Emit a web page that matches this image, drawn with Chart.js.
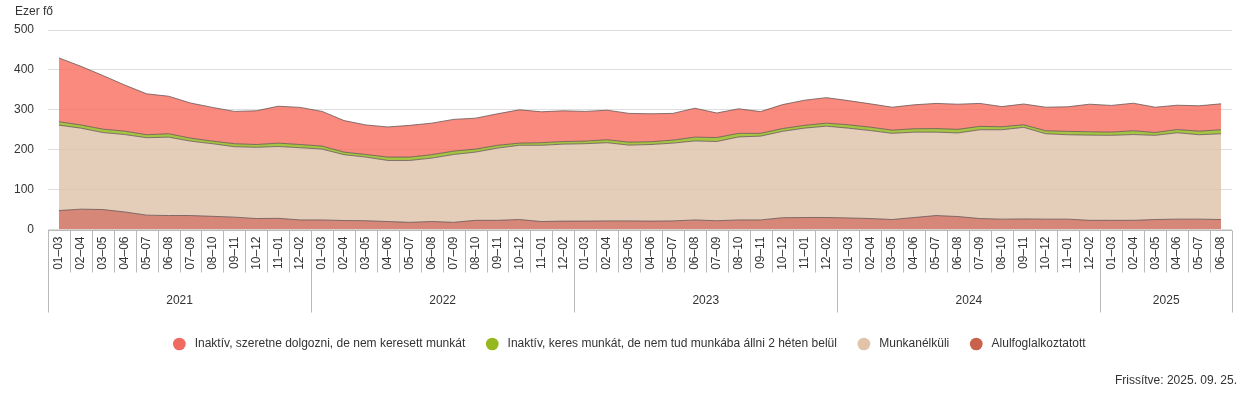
<!DOCTYPE html>
<html>
<head>
<meta charset="utf-8">
<script src="https://cdn.jsdelivr.net/npm/chart.js@4.4.1/dist/chart.umd.min.js"></script>
<style>
html,body{margin:0;padding:0;background:#fff;}
#wrap{position:relative;width:1259px;height:394px;overflow:hidden;}
#c{position:absolute;left:0;top:0;width:1259px;height:394px;}
.t{position:absolute;font-family:"Liberation Sans",Arial,sans-serif;font-size:12px;color:#333;white-space:nowrap;line-height:14px;}
</style>
</head>
<body>
<div id="wrap">
<canvas id="c" width="1259" height="394"></canvas>
<div class="t" style="left:15px;top:4px;">Ezer fő</div>
<div class="t" style="right:22px;top:373px;">Frissítve: 2025. 09. 25.</div>
</div>
<script>
// ---- categories / tick labels ----
const monthLabels = [
 '01–03','02–04','03–05','04–06','05–07','06–08','07–09','08–10','09–11','10–12','11–01','12–02',
 '01–03','02–04','03–05','04–06','05–07','06–08','07–09','08–10','09–11','10–12','11–01','12–02',
 '01–03','02–04','03–05','04–06','05–07','06–08','07–09','08–10','09–11','10–12','11–01','12–02',
 '01–03','02–04','03–05','04–06','05–07','06–08','07–09','08–10','09–11','10–12','11–01','12–02',
 '01–03','02–04','03–05','04–06','05–07','06–08'
];
const yearLabels = ['2021','2022','2023','2024','2025'];
const yearSpans = [12,12,12,12,6];
const yTicks = [0,100,200,300,400,500];

// ---- series values (ezer fő) ----
const alulfoglalkoztatott = [
 47.5,51,50,44,36,35,35,33,31,27.5,28,24,
 24,22.5,22,20,18,20,18,23,23,25,20,21,
 21,21.5,21.5,21,21.5,24,22,24,24,29.5,30,30,
 29,27.5,25,30,35,32.5,27.5,26,26.5,26,26,23,
 23,23,25,26,26,25
];
const munkanelkuli = [
 214,203,193,194,194,196.5,186.5,182,176.5,178.5,180,181,
 177.5,165,159.5,153,155,159,170,171,181,186,191,193,
 194,196,190,192,195,198,198.5,208,210,216.5,224,229,
 225,220.5,216,214,209,209.5,222.5,224,229.5,214,211.5,213.5,
 213,215,211,216.5,211.5,215
];
const inaktivKeres = [
 8.5,8,8.5,8.5,7.5,8.5,7.5,6.5,7.5,7,8.5,8,
 7.5,6.5,6.5,8.5,8.5,8.5,8.5,7.5,7,5.5,6.5,6.5,
 6.5,7.5,7.5,7,7.5,9.5,10,9,7,7,7,7.5,
 8.5,8.5,8,8.5,9,9,8.5,7.5,6.5,7.5,8.5,8.5,
 8,9.5,7,8,9,10
];
const inaktivSzeretne = [
 160,147,134.5,115.5,102.5,94,88,84.5,81,84.5,92.5,93,
 87,79,74,75.5,79.5,79,79.5,77.5,79,83.5,77.5,77,
 74.5,74,72,70,67,72.5,61.5,61.5,54.5,60,63,64,
 60.5,58.5,57.5,60,63,63,57.5,50.5,52,59,61.5,69,
 67,69,63.5,61,63.5,65
];

const seriesNames = ['Alulfoglalkoztatott','Munkanélküli','Inaktív, keres munkát, de nem tud munkába állni 2 héten belül','Inaktív, szeretne dolgozni, de nem keresett munkát'];
const fillColors = ['rgba(204,105,86,0.8)','rgba(221,194,169,0.8)','rgba(144,181,20,0.8)','rgba(249,109,92,0.8)'];
const legendColors = ['#c8624a','#e0c3a9','#94b81e','#f06a60'];
const FONT = '"Liberation Sans", Arial, sans-serif';

const centerLegend = {
  id: 'centerLegend',
  beforeDraw(chart) {
    const L = chart.legend;
    if (!L) return;
    const shift = (chart.width - (L.left + L.right)) / 2;
    L.left += shift;
    L.right += shift;
  }
};

const axisDecor = {
  id: 'axisDecor',
  afterDraw(chart) {
    const {ctx, chartArea} = chart;
    const {left, right, bottom} = chartArea;
    const xs = chart.scales.x;
    const n = monthLabels.length;
    const edge = (i) => {
      if (i === 0) return left;
      if (i === n) return right;
      return (xs.getPixelForValue(i - 1) + xs.getPixelForValue(i)) / 2;
    };
    const yearStarts = new Set();
    let acc = 0;
    yearStarts.add(0);
    yearSpans.forEach(s => { acc += s; yearStarts.add(acc); });
    ctx.save();
    ctx.strokeStyle = '#b9b9b9';
    ctx.lineWidth = 1;
    const yb = Math.round(bottom) + 0.5;
    ctx.beginPath();
    ctx.moveTo(left, yb); ctx.lineTo(right, yb);
    ctx.stroke();
    for (let i = 0; i <= n; i++) {
      const x = Math.round(edge(i)) + 0.5;
      const len = yearStarts.has(i) ? 82 : 42;
      ctx.beginPath();
      ctx.moveTo(x, yb); ctx.lineTo(x, yb + len);
      ctx.stroke();
    }
    ctx.fillStyle = '#333';
    ctx.font = '12px ' + FONT;
    ctx.textAlign = 'center';
    ctx.textBaseline = 'middle';
    let start = 0;
    yearLabels.forEach((yl, k) => {
      const end = start + yearSpans[k];
      ctx.fillText(yl, (edge(start) + edge(end)) / 2, bottom + 71);
      start = end;
    });
    ctx.restore();
  }
};

const dataArrays = [alulfoglalkoztatott, munkanelkuli, inaktivKeres, inaktivSzeretne];

new Chart(document.getElementById('c'), {
  type: 'line',
  data: {
    labels: monthLabels,
    datasets: dataArrays.map((d, k) => ({
      label: seriesNames[k],
      data: d,
      backgroundColor: fillColors[k],
      borderColor: 'rgba(95,80,80,0.75)',
      borderWidth: 1,
      fill: k === 0 ? 'origin' : '-1',
      pointRadius: 0,
      tension: 0
    }))
  },
  options: {
    responsive: false,
    animation: false,
    devicePixelRatio: 1,
    layout: {padding: {left: 0, right: 27, top: 30, bottom: 34}},
    plugins: {
      legend: {
        position: 'bottom',
        reverse: true,
        labels: {
          usePointStyle: true,
          pointStyle: 'circle',
          boxWidth: 12,
          boxHeight: 9,
          padding: 21,
          color: '#333',
          font: {size: 12, family: FONT},
          generateLabels(chart) {
            return chart.data.datasets.map((ds, i) => ({
              text: ' ' + ds.label,
              fillStyle: legendColors[i],
              strokeStyle: legendColors[i],
              lineWidth: 0,
              pointStyle: 'circle',
              hidden: false,
              datasetIndex: i,
              fontColor: '#333'
            }));
          }
        }
      },
      tooltip: {enabled: false}
    },
    scales: {
      x: {
        offset: true,
        grid: {display: false, drawTicks: false, offset: true},
        border: {display: false},
        ticks: {autoSkip: false, minRotation: 90, maxRotation: 90, padding: 7, color: '#333', font: {size: 12, family: FONT}},
        afterFit(s) { s.height = 87.5; }
      },
      y: {
        stacked: true,
        min: 0,
        max: 500,
        afterBuildTicks(s) { s.ticks = yTicks.map(v => ({value: v})); },
        ticks: {padding: 14, color: '#333', font: {size: 12, family: FONT}},
        grid: {color: '#dedede', drawTicks: false},
        border: {display: false},
        afterFit(s) { s.width = 48; }
      }
    }
  },
  plugins: [centerLegend, axisDecor]
});
</script>
</body>
</html>
